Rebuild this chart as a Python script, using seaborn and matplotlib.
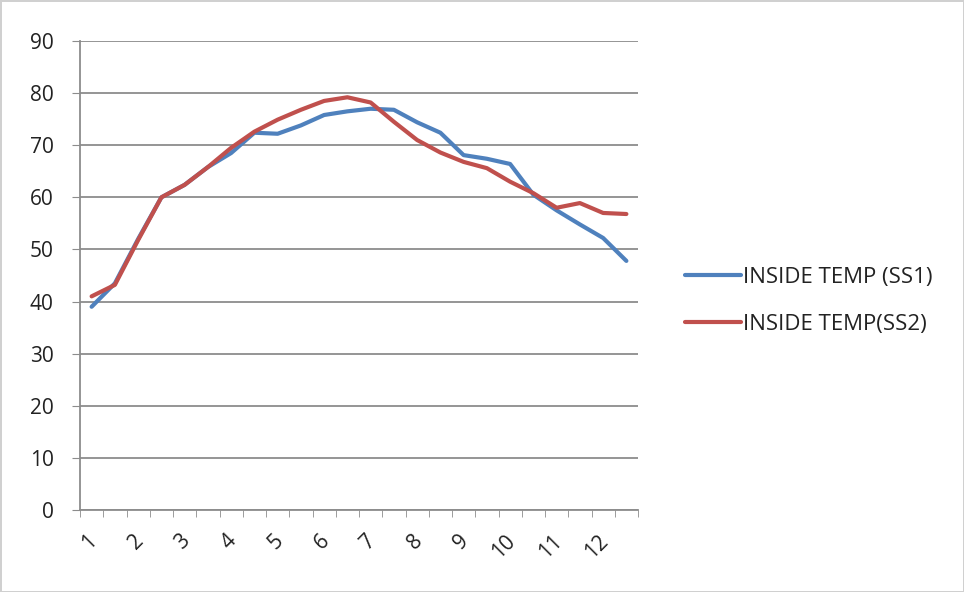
import matplotlib
matplotlib.use("Agg")
import matplotlib.pyplot as plt
import pandas as pd
import numpy as np
import seaborn as sns

# readings, two per period
ss1_temp = [39, 43.5, 52, 60, 62.4, 65.8, 68.5, 72.4, 72.2, 73.8,
            75.8, 76.5, 77, 76.8, 74.4, 72.4, 68.1, 67.4, 66.4, 60.5,
            57.5, 54.8, 52.2, 47.8]
ss2_temp = [41, 43.2, 51.8, 60, 62.4, 65.8, 69.5, 72.6, 74.9, 76.8,
            78.5, 79.2, 78.2, 74.5, 71, 68.6, 66.8, 65.6, 63, 60.8,
            58, 58.9, 57, 56.8]
tick_labels = [str(i) for i in range(1, 13)]
series_names = ["INSIDE TEMP (SS1)", "INSIDE TEMP(SS2)"]

idx = np.arange(len(ss1_temp))
df = pd.DataFrame({
    "idx": np.concatenate([idx, idx]),
    "temp": ss1_temp + ss2_temp,
    "series": [series_names[0]] * len(idx) + [series_names[1]] * len(idx),
})

sns.set_style("white")
plt.rcParams["font.family"] = ["Open Sans", "DejaVu Sans"]

fig = plt.figure(figsize=(9.64, 5.92), dpi=100)
fig.patch.set_edgecolor("#d0d0d0")
fig.patch.set_linewidth(2)
ax = fig.add_axes([80 / 964, 1 - 510 / 592, 558 / 964, 469 / 592])

sns.lineplot(data=df, x="idx", y="temp", hue="series",
             palette=["#4F81BD", "#C0504D"], linewidth=3.0, ax=ax,
             legend=True)

ax.set_xlim(-0.5, len(idx) - 0.5)
ax.set_ylim(0, 90)
ax.set_yticks(range(0, 91, 10))
ax.yaxis.grid(True, color="#8c8c8c", linewidth=1.3)
ax.set_axisbelow(True)

# tick marks between categories, labels on every other point
ax.set_xticks(np.arange(-0.5, len(idx), 1), minor=True)
ax.set_xticks(idx[::2] + 0.1)
ax.set_xticklabels(tick_labels, rotation=45, ha="right", va="center",
                   rotation_mode="anchor")
ax.tick_params(axis="x", which="major", length=0, pad=20, labelsize=15,
               labelcolor="#222222")
ax.tick_params(axis="x", which="minor", length=5, color="#8c8c8c",
               direction="out", bottom=True)
ax.tick_params(axis="y", length=6, color="#8c8c8c", labelsize=15,
               labelcolor="#222222", left=True, pad=13)

for s in ["top", "right"]:
    ax.spines[s].set_visible(False)
ax.spines["left"].set_color("#8c8c8c")
ax.spines["bottom"].set_color("#8c8c8c")
ax.spines["left"].set_linewidth(1.3)
ax.spines["bottom"].set_linewidth(1.3)

ax.set_xlabel("")
ax.set_ylabel("")

leg = ax.legend(loc="center left", bbox_to_anchor=(685 / 964, 1 - 301 / 592),
                bbox_transform=fig.transFigure, frameon=False,
                borderaxespad=0, borderpad=0,
                fontsize=16, handlelength=2.5, handletextpad=0.1,
                labelspacing=1.15)
for line in leg.get_lines():
    line.set_linewidth(3.0)
for t in leg.get_texts():
    t.set_color("#222222")

fig.savefig("out.png", dpi=100, edgecolor=fig.get_edgecolor())
